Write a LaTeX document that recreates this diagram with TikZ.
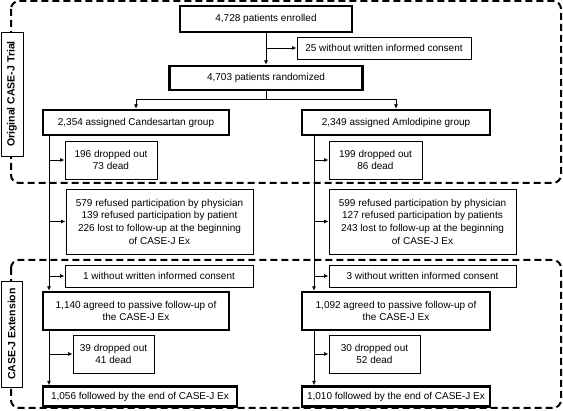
\documentclass[tikz,border=0pt]{standalone}
\usepackage{fontspec}
\setmainfont{Liberation Sans}
\usetikzlibrary{arrows.meta}
\begin{document}
\begin{tikzpicture}[x=1pt,y=-1pt,
  every node/.style={font=\fontsize{10}{12.7}\selectfont, align=center, inner sep=0pt},
  thickbox/.style={draw, line width=2.4pt, fill=white},
  thinbox/.style={draw, line width=0.9pt, fill=white},
  frame/.style={line width=2pt, dash pattern=on 7pt off 4pt, rounded corners=8pt},
  lab/.style={draw, line width=0.8pt, fill=white, rotate=90, font=\fontsize{10.5}{12}\selectfont\bfseries},
  conn/.style={line width=0.9pt},
  arr/.style={conn, -{Latex[length=4.5pt,width=4pt]}}
]
\useasboundingbox (0,0) rectangle (563,411);
% frames
\draw[frame] (11,1) rectangle (561,183);
\draw[frame] (11,260) rectangle (561,408);
\node[lab, minimum width=124pt, minimum height=22pt] (l1) at (12,94) {Original CASE-J Trial};
\node[lab, minimum width=106pt, minimum height=21pt] (l2) at (11.5,334) {CASE-J Extension};
% top nodes
\node[thickbox, minimum width=172pt, minimum height=26pt] (enr) at (266,19) {4,728 patients enrolled};
\node[thinbox, minimum width=174pt, minimum height=22pt] (wic) at (384,48) {25 without written informed consent};
\node[thickbox, minimum width=193pt, minimum height=24pt] (rnd) at (266,78) {4,703 patients randomized};
\node[thickbox, minimum width=186pt, minimum height=25pt] (can) at (136,122.5) {2,354 assigned Candesartan group};
\node[thickbox, minimum width=188pt, minimum height=25pt] (aml) at (396,122.5) {2,349 assigned Amlodipine group};
% side boxes
\node[thinbox, minimum width=92pt, minimum height=38pt] (cdo) at (111,160) {196 dropped out\\73 dead};
\node[thinbox, minimum width=93pt, minimum height=38pt] (ado) at (375.5,160) {199 dropped out\\86 dead};
\node[thinbox, minimum width=187pt, minimum height=65pt] (cref) at (159.5,221.5) {579 refused participation by physician\\139 refused participation by patient\\226 lost to follow-up at the beginning\\of CASE-J Ex};
\node[thinbox, minimum width=187pt, minimum height=65pt] (aref) at (422.5,221.5) {599 refused participation by physician\\127 refused participation by patients\\243 lost to follow-up at the beginning\\of CASE-J Ex};
\node[thinbox, minimum width=188pt, minimum height=22pt] (cwic) at (159,276) {1 without written informed consent};
\node[thinbox, minimum width=187pt, minimum height=22pt] (awic) at (422.5,276) {3 without written informed consent};
\node[thickbox, minimum width=186pt, minimum height=38pt] (cagr) at (136,311) {1,140 agreed to passive follow-up of\\the CASE-J Ex};
\node[thickbox, minimum width=188pt, minimum height=38pt] (aagr) at (396,311) {1,092 agreed to passive follow-up of\\the CASE-J Ex};
\node[thinbox, minimum width=81pt, minimum height=38pt] (cdo2) at (113.5,354) {39 dropped out\\41 dead};
\node[thinbox, minimum width=91pt, minimum height=38pt] (ado2) at (374.5,354) {30 dropped out\\52 dead};
\node[thickbox, minimum width=194pt, minimum height=20pt] (cend) at (140,396.5) {1,056 followed by the end of CASE-J Ex};
\node[thickbox, minimum width=188pt, minimum height=20pt] (aend) at (396,396.5) {1,010 followed by the end of CASE-J Ex};
% top connectors
\draw[arr] (enr.south) -- (enr.south |- rnd.north);
\draw[arr] (enr.south |- wic.west) -- (wic.west);
\coordinate (sp) at (266,99);
\draw[conn] (rnd.south) -- (sp);
\draw[arr] (sp) -| (can.north);
\draw[arr] (sp) -| (aml.north);
% left column
\coordinate (cL) at (49,135);
\coordinate (aL) at (314,135);
\draw[arr] (cL) -- (cL |- cagr.north);
\draw[arr] (cL |- cdo.west) -- (cdo.west);
\draw[arr] (cL |- cref.west) -- (cref.west);
\draw[arr] (cL |- cwic.west) -- (cwic.west);
\draw[arr] (cL |- cagr.south) -- (cL |- cend.north);
\draw[arr] (cL |- cdo2.west) -- (cdo2.west);
% right column
\draw[arr] (aL) -- (aL |- aagr.north);
\draw[arr] (aL |- ado.west) -- (ado.west);
\draw[arr] (aL |- aref.west) -- (aref.west);
\draw[arr] (aL |- awic.west) -- (awic.west);
\draw[arr] (aL |- aagr.south) -- (aL |- aend.north);
\draw[arr] (aL |- ado2.west) -- (ado2.west);
\end{tikzpicture}
\end{document}
